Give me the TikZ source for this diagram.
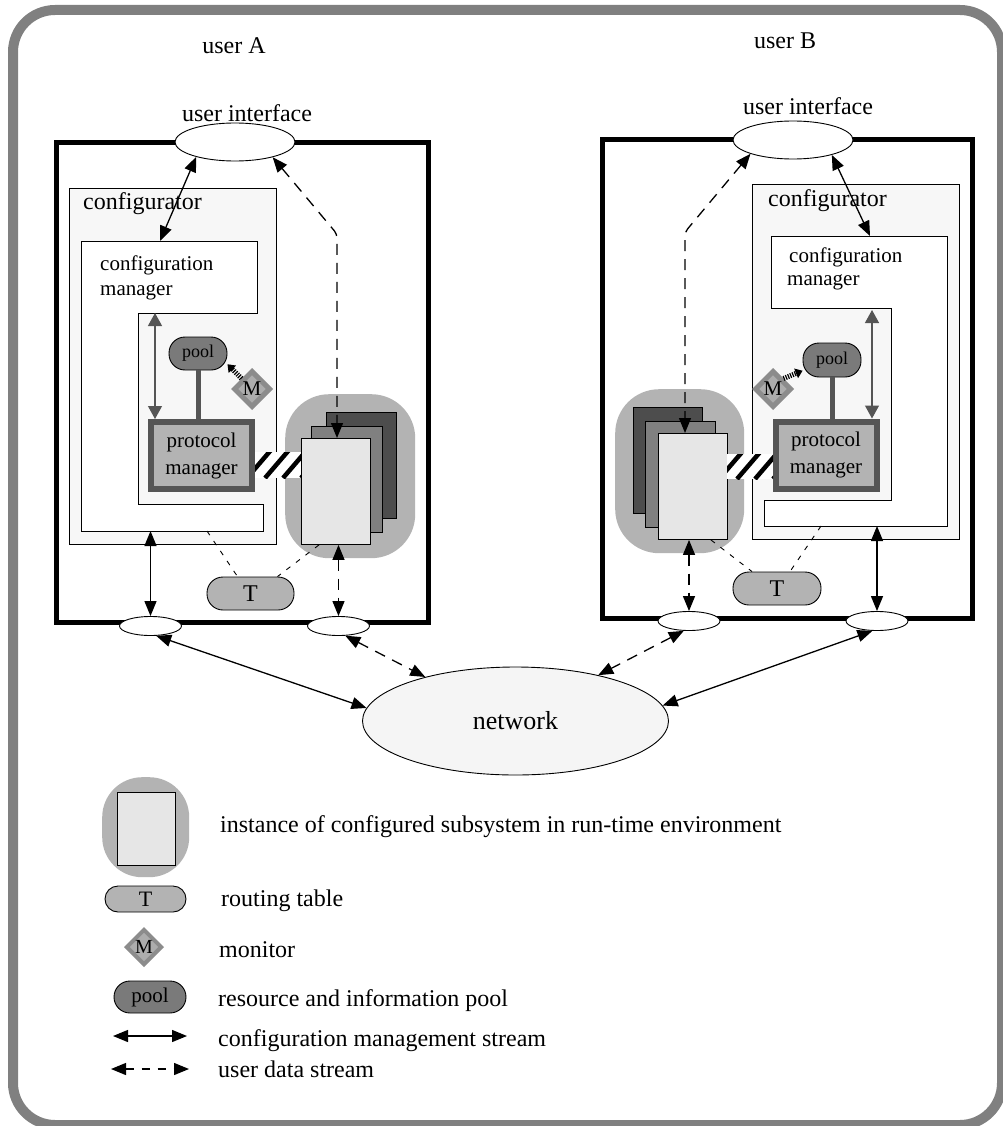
\documentclass[tikz,border=0pt]{standalone}
\usepackage{fontspec}
\setmainfont{Liberation Serif}
\usetikzlibrary{arrows.meta,shapes.geometric}

\definecolor{framegray}{HTML}{808080}
\definecolor{cfgfill}{HTML}{F7F7F7}
\definecolor{blobgray}{HTML}{B3B3B3}
\definecolor{sheetdark}{HTML}{4D4D4D}
\definecolor{sheetmid}{HTML}{808080}
\definecolor{sheetlight}{HTML}{E6E6E6}
\definecolor{pmedge}{HTML}{555555}
\definecolor{pmfill}{HTML}{B3B3B3}
\definecolor{poolfill}{HTML}{7A7A7A}
\definecolor{monedge}{HTML}{8C8C8C}
\definecolor{monfill}{HTML}{ADADAD}
\definecolor{netfill}{HTML}{F5F5F5}

\tikzset{
  outerframe/.style={draw=framegray, line width=10pt, rounded corners=42pt},
  heavy/.style={draw=black, line width=5pt},
  cfgarea/.style={draw=black, fill=cfgfill, line width=0.9pt},
  mgrarea/.style={draw=black, fill=white, line width=0.9pt},
  port/.style={ellipse, draw=black, fill=white, line width=0.9pt,
    minimum width=62pt, minimum height=19pt, inner sep=0pt},
  uiport/.style={ellipse, draw=black, fill=white, line width=0.9pt,
    minimum width=120pt, minimum height=38pt, inner sep=0pt},
  netnode/.style={ellipse, draw=black, fill=netfill, line width=0.9pt,
    minimum width=306pt, minimum height=108pt, inner sep=0pt,
    font=\fontsize{26}{30}\selectfont},
  blob/.style={fill=blobgray, rounded corners=44pt, inner sep=0pt, anchor=north west},
  sheet/.style={draw=black, line width=0.9pt, inner sep=0pt, anchor=north west,
    minimum width=69pt, minimum height=106pt},
  protmgr/.style={draw=pmedge, fill=pmfill, line width=6pt, inner sep=0pt,
    minimum width=101pt, minimum height=67pt, align=center,
    font=\fontsize{21}{27}\selectfont},
  poolnode/.style={draw=black, fill=poolfill, line width=0.9pt, rounded corners=16pt,
    minimum width=58pt, minimum height=33pt, inner sep=0pt,
    font=\fontsize{18}{18}\selectfont},
  tablenode/.style={draw=black, fill=pmfill, line width=0.9pt, rounded corners=16pt,
    minimum width=87pt, minimum height=33pt, inner sep=0pt,
    font=\fontsize{24}{24}\selectfont},
  monnode/.style={diamond, draw=monedge, fill=monfill, line width=5pt,
    minimum width=37pt, minimum height=37pt, inner sep=0pt,
    font=\fontsize{21}{21}\selectfont},
  stripes/.style={fill=white, inner sep=0pt, minimum width=46pt, minimum height=26pt,
    path picture={
      \foreach \k in {0,1,2,3,4}{
        \draw[line width=4.5pt]
          ([xshift=\k*18pt-26pt]path picture bounding box.south west) -- ++(24pt,28pt);
      }}},
  cms/.style={<->, line width=1.3pt},
  uds/.style={<->, line width=1.3pt, dash pattern=on 11pt off 8pt},
  innerlink/.style={<->, draw=pmedge, line width=1.2pt,
    >={Triangle[length=13pt,width=14pt]}},
  routing/.style={draw=black, line width=0.9pt, dash pattern=on 5pt off 7pt},
  hatch/.style={-{Triangle[length=7pt,width=10pt]}, line width=5pt,
    dash pattern=on 1.2pt off 1.2pt},
  poolbar/.style={draw=pmedge, line width=5pt},
  txtbig/.style={font=\fontsize{24}{28}\selectfont, inner sep=0pt},
  txtmid/.style={font=\fontsize{21}{25}\selectfont, inner sep=0pt},
}

\begin{document}
\begin{tikzpicture}[x=1pt, y=-1pt, >={Triangle[length=15pt,width=12pt]}]
\useasboundingbox (0,0) rectangle (1002,1126);
\draw[outerframe] (13,10) rectangle (1002,1125);

% ---------------- user A ----------------
\node[txtbig, anchor=base] (userA) at (234,54) {user A};
\draw[heavy] (56,143) rectangle (428,622);
\draw[cfgarea] (69,188) rectangle (276,544);
\node[txtbig, anchor=base west] (cfgAlab) at (83,209) {configurator};
\draw[mgrarea] (81,241) -- (257,241) -- (257,313) -- (138,313) -- (138,504)
  -- (263,504) -- (263,531) -- (81,531) -- cycle;
\node[txtmid, anchor=base west] (cmAl1) at (100,270) {configuration};
\node[txtmid, anchor=base west] (cmAl2) at (100,295) {manager};
\coordinate (cmAtop) at (160,241);
\coordinate (cmAin) at (155,313);
\coordinate (cmAbot) at (150.5,531);
\coordinate (cmAt) at (207,531);

\node[protmgr] (pmA) at (201.5,455.5) {protocol\\manager};
\node[poolnode] (poolA) at (198,353.5) {pool};
\draw[poolbar] (poolA.south) -- (poolA.south |- pmA.north);
\node[monnode] (mA) at (252,389) {M};
\draw[hatch] (mA.135) -- (poolA.-20);
\draw[innerlink] (cmAin) -- (cmAin |- pmA.north);

\node[blob, minimum width=130pt, minimum height=164pt] (blobA) at (285,394) {};
\node[sheet, fill=sheetdark, minimum width=70pt] (bsA) at (326,412) {};
\node[sheet, fill=sheetmid, minimum width=71pt] (msA) at (311,426) {};
\node[sheet, fill=sheetlight] (fsA) at (301,438) {};
\node[stripes] (lnkA) at (278,465) {};

\node[tablenode] (tA) at (250.5,593.5) {T};
\draw[routing] (cmAt) -- ([xshift=-13pt]tA.north);
\draw[routing] ([xshift=18pt]fsA.south west) -- ([xshift=27pt]tA.north);

\node[port] (pA1) at (150.5,626) {};
\node[port] (pA2) at (338.5,626) {};
\node[uiport] (uiA) at (235,142) {};
\node[txtbig, anchor=base] (uiAlab) at (247,122) {user interface};
\coordinate (bendA) at (337,234);

\draw[cms] (uiA.201) -- (cmAtop);
\draw[uds, rounded corners=4pt] (uiA.338) -- (bendA) -- (bendA |- fsA.north);
\draw[cms] (cmAbot) -- (pA1.north);
\draw[uds] (fsA.south -| pA2.north) -- (pA2.north);

% ---------------- user B ----------------
\node[txtbig, anchor=base] (userB) at (785,49) {user B};
\draw[heavy] (602,140) rectangle (972,618);
\draw[cfgarea] (752,184) rectangle (959,539);
\node[txtbig, anchor=base west] (cfgBlab) at (768,207) {configurator};
\draw[mgrarea] (771,236) -- (947,236) -- (947,526) -- (764,526) -- (764,500)
  -- (891,500) -- (891,308) -- (771,308) -- cycle;
\node[txtmid, anchor=base west] (cmBl1) at (789,262) {configuration};
\node[txtmid, anchor=base west] (cmBl2) at (787,285) {manager};
\coordinate (cmBtop) at (870,236);
\coordinate (cmBin) at (872,310);
\coordinate (cmBbot) at (877,526);
\coordinate (cmBt) at (821,526);

\node[protmgr] (pmB) at (826,455) {protocol\\manager};
\node[poolnode, minimum height=34pt] (poolB) at (832,360) {pool};
\draw[poolbar] (poolB.south) -- (poolB.south |- pmB.north);
\node[monnode] (mB) at (773,389) {M};
\draw[hatch] (mB.45) -- (poolB.200);
\draw[innerlink] (cmBin) -- (cmBin |- pmB.north);

\node[blob, minimum width=129pt, minimum height=164pt] (blobB) at (615,389) {};
\node[sheet, fill=sheetdark] (bsB) at (633,407) {};
\node[sheet, fill=sheetmid, minimum width=70pt] (msB) at (645,421) {};
\node[sheet, fill=sheetlight] (fsB) at (658,433) {};
\node[stripes, minimum height=25pt] (lnkB) at (750,466.5) {};

\node[tablenode, minimum width=88pt] (tB) at (777,588.5) {T};
\draw[routing] ([xshift=-17pt]fsB.south east) -- ([xshift=-25pt]tB.north);
\draw[routing] (cmBt) -- ([xshift=13pt]tB.north);

\node[port] (pB1) at (689,621) {};
\node[port] (pB2) at (877,621) {};
\node[uiport] (uiB) at (793,140) {};
\node[txtbig, anchor=base] (uiBlab) at (808,115) {user interface};
\coordinate (bendB) at (685,232);

\draw[cms] (uiB.339) -- (cmBtop);
\draw[uds, rounded corners=4pt] (uiB.198) -- (bendB) -- (bendB |- fsB.north);
\draw[cms] (cmBbot) -- (pB2.north);
\draw[uds] (fsB.south -| pB1.north) -- (pB1.north);

% ---------------- network ----------------
\node[netnode] (net) at (515.5,721) {network};
\draw[cms] (pA1.-60) -- (net.175);
\draw[uds] (pA2.-55) -- (net.154);
\draw[uds] (pB1.-118) -- (net.29);
\draw[cms] (pB2.-115) -- (net.6);

% ---------------- legend ----------------
\node[blob, minimum width=87pt, minimum height=100pt, rounded corners=40pt] (blobL) at (102,777) {};
\node[sheet, fill=sheetlight, minimum width=58pt, minimum height=73pt] (fsL) at (117,792) {};
\node[txtbig, anchor=base west] (legInst) at (220,832)
  {instance of configured subsystem in run-time environment};

\node[tablenode, minimum width=81pt, minimum height=26pt, rounded corners=13pt,
  font=\fontsize{22}{22}\selectfont] (tL) at (145.5,899) {T};
\node[txtbig, anchor=base west] (legT) at (221,906) {routing table};

\node[monnode, line width=4pt, minimum width=36pt, minimum height=36pt,
  font=\fontsize{20}{20}\selectfont] (mL) at (144,947) {M};
\node[txtbig, anchor=base west] (legM) at (219,957) {monitor};

\node[poolnode, minimum width=72pt, minimum height=32pt,
  font=\fontsize{21}{21}\selectfont] (poolL) at (150,997) {pool};
\node[txtbig, anchor=base west] (legP) at (218,1006) {resource and information pool};

\coordinate (cmsL1) at (113,1036);
\coordinate (cmsL2) at (187,1036);
\draw[cms] (cmsL1) -- (cmsL2);
\node[txtbig, anchor=base west] (legC) at (218,1046) {configuration management stream};

\coordinate (udsL1) at (111,1069);
\coordinate (udsL2) at (189,1069);
\draw[uds, dash pattern=on 8pt off 8pt] (udsL1) -- (udsL2);
\node[txtbig, anchor=base west] (legU) at (218,1077) {user data stream};
\end{tikzpicture}
\end{document}
